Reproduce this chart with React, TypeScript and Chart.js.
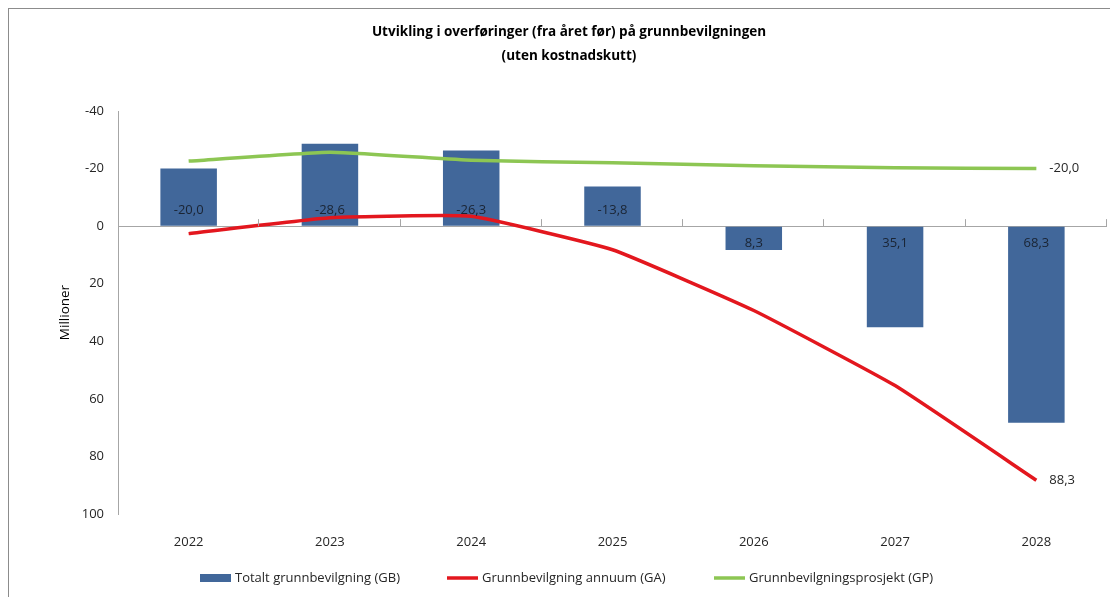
import React, { useEffect, useRef } from "react";
import { Chart, registerables } from "chart.js";

Chart.register(...registerables);

const categories = ["2022", "2023", "2024", "2025", "2026", "2027", "2028"];
const gbValues = [-20.0, -28.6, -26.3, -13.8, 8.3, 35.1, 68.3];
const gaValues = [2.6, -2.9, -3.4, 8.2, 29.3, 55.4, 88.3];
const gpValues = [-22.6, -25.7, -22.9, -22.0, -21.0, -20.3, -20.0];
const yTicks = [-40, -20, 0, 20, 40, 60, 80, 100];
const titleLines = [
  "Utvikling i overføringer (fra året før) på grunnbevilgningen",
  "(uten kostnadskutt)",
];
const seriesNames = [
  "Totalt grunnbevilgning (GB)",
  "Grunnbevilgning annuum (GA)",
  "Grunnbevilgningsprosjekt (GP)",
];
const yTitle = "Millioner";

const BAR = "#41679A";
const RED = "#E3171E";
const GREEN = "#8DC653";
const FONT = "'Open Sans', 'Noto Sans', sans-serif";

const fmt = (v: number) => v.toFixed(1).replace(".", ",");

const decorPlugin = {
  id: "decor",
  afterDatasetsDraw(chart: any) {
    const ctx = chart.ctx;
    const y = chart.scales.y;
    const area = chart.chartArea;
    const zero = y.getPixelForValue(0);
    ctx.save();
    ctx.strokeStyle = "#a6a6a6";
    ctx.lineWidth = 1;
    const step = (area.right - area.left) / categories.length;
    for (let i = 1; i <= categories.length; i++) {
      const px = Math.round(area.left + step * i) - 0.5;
      ctx.beginPath();
      ctx.moveTo(px, zero);
      ctx.lineTo(px, zero - 7);
      ctx.stroke();
    }
    ctx.fillStyle = "#1a2433";
    ctx.font = `13px ${FONT}`;
    ctx.textAlign = "center";
    ctx.textBaseline = "middle";
    const barMeta = chart.getDatasetMeta(0);
    barMeta.data.forEach((el: any, i: number) => {
      const v = gbValues[i];
      const ly = v < 0 ? zero - 16 : zero + 17;
      ctx.fillText(fmt(v), el.x, ly);
    });
    ctx.fillStyle = "#262626";
    ctx.textAlign = "left";
    const last = categories.length - 1;
    const ga = chart.getDatasetMeta(1).data[last];
    const gp = chart.getDatasetMeta(2).data[last];
    ctx.fillText(fmt(gaValues[last]), ga.x + 13, ga.y);
    ctx.fillText(fmt(gpValues[last]), gp.x + 13, gp.y);
    ctx.restore();
  },
  afterDraw(chart: any) {
    const ctx = chart.ctx;
    const area = chart.chartArea;
    ctx.save();
    ctx.fillStyle = "#000";
    ctx.font = `bold 13.5px ${FONT}`;
    ctx.textAlign = "center";
    ctx.textBaseline = "middle";
    ctx.fillText(titleLines[0], 560, 23);
    ctx.fillText(titleLines[1], 560, 47);
    ctx.font = `13.5px ${FONT}`;
    ctx.fillStyle = "#000";
    ctx.translate(56, (area.top + area.bottom) / 2);
    ctx.rotate(-Math.PI / 2);
    ctx.fillText(yTitle, 0, 0);
    ctx.restore();
    ctx.save();
    ctx.font = `13px ${FONT}`;
    ctx.textBaseline = "middle";
    ctx.textAlign = "left";
    const ly = 569;
    const items = [
      { x: 191, kind: "bar", color: BAR },
      { x: 438, kind: "line", color: RED },
      { x: 705, kind: "line", color: GREEN },
    ];
    items.forEach((it, i) => {
      if (it.kind === "bar") {
        ctx.fillStyle = it.color;
        ctx.fillRect(it.x, ly - 4, 31, 8);
      } else {
        ctx.strokeStyle = it.color;
        ctx.lineWidth = 3.5;
        ctx.beginPath();
        ctx.moveTo(it.x, ly);
        ctx.lineTo(it.x + 31, ly);
        ctx.stroke();
      }
      ctx.fillStyle = "#262626";
      ctx.fillText(seriesNames[i], it.x + 35, ly);
    });
    ctx.restore();
  },
};

export default function App() {
  const ref = useRef<HTMLCanvasElement>(null);
  useEffect(() => {
    if (!ref.current) return;
    const chart = new Chart(ref.current, {
      type: "bar",
      data: {
        labels: categories,
        datasets: [
          {
            type: "bar",
            label: seriesNames[0],
            data: gbValues,
            backgroundColor: BAR,
            barPercentage: 0.4,
            categoryPercentage: 1,
            order: 2,
          },
          {
            type: "line",
            label: seriesNames[1],
            data: gaValues,
            borderColor: RED,
            backgroundColor: RED,
            borderWidth: 3.5,
            pointRadius: 0,
            tension: 0.12,
            order: 1,
          },
          {
            type: "line",
            label: seriesNames[2],
            data: gpValues,
            borderColor: GREEN,
            backgroundColor: GREEN,
            borderWidth: 3.5,
            pointRadius: 0,
            tension: 0.12,
            order: 0,
          },
        ] as any,
      },
      options: {
        animation: false,
        responsive: false,
        maintainAspectRatio: false,
        layout: { padding: { left: 49, right: 11, top: 102, bottom: 43 } },
        plugins: {
          legend: { display: false },
          title: { display: false },
          tooltip: { enabled: false },
        },
        scales: {
          x: {
            grid: { display: false },
            border: { display: false },
            ticks: {
              color: "#262626",
              font: { family: FONT, size: 13 },
              padding: 12,
              maxRotation: 0,
            },
            afterFit: (s: any) => {
              s.height = 40;
            },
          },
          y: {
            reverse: true,
            min: -40,
            max: 100,
            afterBuildTicks: (s: any) => {
              s.ticks = yTicks.map((v) => ({ value: v }));
            },
            grid: {
              drawTicks: false,
              color: (c: any) => (c.tick && c.tick.value === 0 ? "#a6a6a6" : "rgba(0,0,0,0)"),
              lineWidth: 1,
            },
            border: { display: true, color: "#a6a6a6" },
            ticks: {
              color: "#262626",
              font: { family: FONT, size: 13 },
              padding: 14,
            },
            afterFit: (s: any) => {
              s.width = 60;
            },
          },
        },
      },
      plugins: [decorPlugin],
    });
    return () => chart.destroy();
  }, []);
  return (
    <div
      style={{
        width: 1109,
        height: 588,
        borderTop: "1px solid #8c8c8c",
        borderLeft: "1px solid #8c8c8c",
        background: "#fff",
      }}
    >
      <canvas ref={ref} width={1109} height={588} style={{ display: "block" }} />
    </div>
  );
}
